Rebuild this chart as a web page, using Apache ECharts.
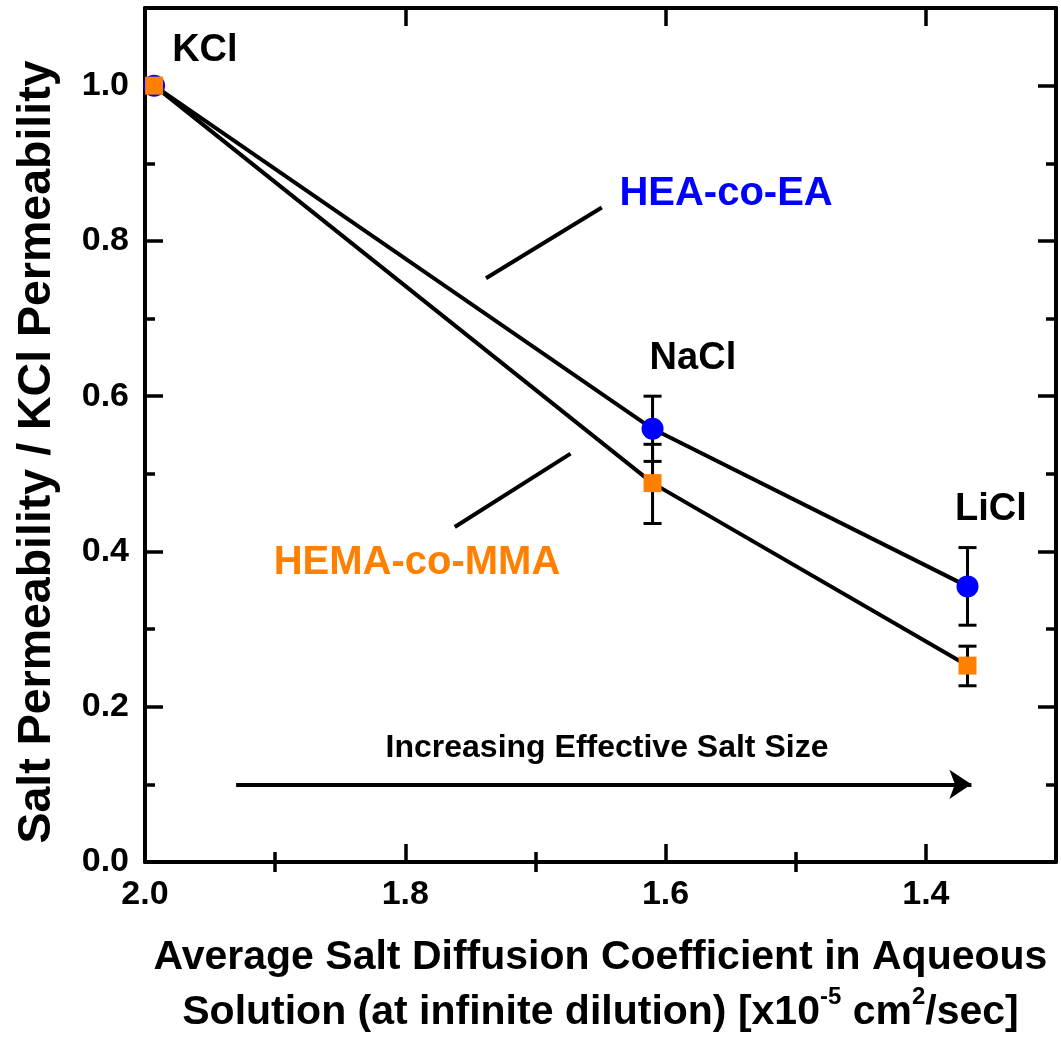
<!DOCTYPE html>
<html>
<head>
<meta charset="utf-8">
<script src="https://cdn.jsdelivr.net/npm/echarts@6/dist/echarts.min.js"></script>
<style>
  html, body { margin: 0; padding: 0; background: #fff; }
  #chart { width: 1061px; height: 1039px; }
</style>
</head>
<body>
<div id="chart"></div>
<script>
// salts, x = diffusion coefficient (x10^-5 cm2/sec)
const salts = ['KCl', 'NaCl', 'LiCl']
const diffusion = [1.993, 1.610, 1.368]

// normalised permeability + error bar ends
const heaValues = [1.0, 0.558, 0.355]
const heaLow = [null, 0.516, 0.305]
const heaHigh = [null, 0.600, 0.405]
const hemaValues = [1.0, 0.488, 0.253]
const hemaLow = [null, 0.436, 0.227]
const hemaHigh = [null, 0.538, 0.278]

// ticks
const xMajor = [2.0, 1.8, 1.6, 1.4]
const xMinor = [1.9, 1.7, 1.5]
const yMajor = [0.0, 0.2, 0.4, 0.6, 0.8, 1.0]
const yMinor = [0.1, 0.3, 0.5, 0.7, 0.9]

// text annotations in data units
const saltLabelX = [1.954, 1.579, 1.350]
const saltLabelY = [1.045, 0.648, 0.454]
const seriesNames = ['HEA-co-EA', 'HEMA-co-MMA']
const seriesLabelX = [1.5535, 1.791]
const seriesLabelY = [0.861, 0.385]
const leaderFrom = [[1.738, 0.752], [1.762, 0.4315]]
const leaderTo = [[1.649, 0.843], [1.673, 0.526]]
const arrowText = 'Increasing Effective Salt Size'
const arrowTextPos = [1.645, 0.147]
const arrowFrom = [1.930, 0.1]
const arrowTo = [1.365, 0.1]

const FONT = "'Liberation Sans', Arial, Helvetica, sans-serif"
const BLUE = '#0000FF'
const ORANGE = '#FF8000'

const chart = echarts.init(document.getElementById('chart'))

// fixed plot box, no auto shrinking for labels
const gridBox = { left: 145, right: 5, top: 8, bottom: 177, containLabel: false, outerBoundsMode: 'none' }

const xBase = (grid, pos) => ({
  type: 'value',
  gridIndex: grid,
  position: pos,
  inverse: true,
  min: 1.3,
  max: 2.0,
  splitLine: { show: false }
})
const yBase = (grid, pos) => ({
  type: 'value',
  gridIndex: grid,
  position: pos,
  min: 0,
  max: 1.1,
  splitLine: { show: false }
})

const axisLine = { show: true, onZero: false, lineStyle: { color: '#000', width: 4 } }
const majorTick = (vals) => ({ show: true, inside: true, length: 18, customValues: vals, lineStyle: { color: '#000', width: 3.5 } })
const minorTick = (vals) => ({ show: true, inside: true, length: 10, customValues: vals, lineStyle: { color: '#000', width: 3.5 } })
const tickLabel = (vals) => ({
  show: true,
  customValues: vals,
  margin: 16,
  color: '#000',
  fontFamily: FONT,
  fontWeight: 'bold',
  fontSize: 34,
  formatter: v => Number(v).toFixed(1)
})

const errorData = (xs, lo, hi) => xs
  .map((x, i) => [x, lo[i], hi[i]])
  .filter(d => d[1] != null)

const renderErrorBar = (params, api) => {
  const x = api.value(0)
  const lo = api.coord([x, api.value(1)])
  const hi = api.coord([x, api.value(2)])
  const half = 9
  const style = { stroke: '#000', lineWidth: 3 }
  return {
    type: 'group',
    children: [
      { type: 'line', shape: { x1: lo[0], y1: lo[1], x2: hi[0], y2: hi[1] }, style },
      { type: 'line', shape: { x1: lo[0] - half, y1: lo[1], x2: lo[0] + half, y2: lo[1] }, style },
      { type: 'line', shape: { x1: hi[0] - half, y1: hi[1], x2: hi[0] + half, y2: hi[1] }, style }
    ]
  }
}

const labelData = [
  ...salts.map((s, i) => ({
    name: s,
    value: [saltLabelX[i], saltLabelY[i]],
    label: { color: '#000', fontSize: 38 }
  })),
  ...seriesNames.map((s, i) => ({
    name: s,
    value: [seriesLabelX[i], seriesLabelY[i]],
    label: { color: i === 0 ? BLUE : ORANGE, fontSize: 40 }
  })),
  {
    name: arrowText,
    value: arrowTextPos,
    label: { color: '#000', fontSize: 32 }
  }
]

const option = {
  backgroundColor: '#fff',
  animation: false,
  grid: [{ ...gridBox }, { ...gridBox }],
  xAxis: [
    {
      ...xBase(0, 'bottom'),
      axisLine,
      axisTick: majorTick(xMajor),
      axisLabel: tickLabel(xMajor),
      name: 'Average Salt Diffusion Coefficient in Aqueous\nSolution (at infinite dilution) [x10{sup|-5} cm{sup|2}/sec]',
      nameLocation: 'middle',
      nameGap: 68,
      nameTextStyle: {
        color: '#000',
        fontFamily: FONT,
        fontWeight: 'bold',
        fontSize: 41,
        lineHeight: 55,
        rich: {
          sup: { fontFamily: FONT, fontWeight: 'bold', fontSize: 24, color: '#000', verticalAlign: 'top', lineHeight: 34 }
        }
      }
    },
    { ...xBase(0, 'top'), axisLine, axisTick: majorTick(xMajor), axisLabel: { show: false } },
    { ...xBase(1, 'bottom'), axisLine: { show: false }, axisTick: minorTick(xMinor), axisLabel: { show: false } },
    { ...xBase(1, 'top'), axisLine: { show: false }, axisTick: minorTick(xMinor), axisLabel: { show: false } }
  ],
  yAxis: [
    {
      ...yBase(0, 'left'),
      axisLine,
      axisTick: majorTick(yMajor),
      axisLabel: tickLabel(yMajor),
      name: 'Salt Permeability / KCl Permeability',
      nameLocation: 'middle',
      nameGap: 84,
      nameTextStyle: {
        color: '#000',
        fontFamily: FONT,
        fontWeight: 'bold',
        fontSize: 46.5,
        padding: [0, 34, 0, 0]
      }
    },
    { ...yBase(0, 'right'), axisLine, axisTick: majorTick(yMajor), axisLabel: { show: false } },
    { ...yBase(1, 'left'), axisLine: { show: false }, axisTick: minorTick(yMinor), axisLabel: { show: false } },
    { ...yBase(1, 'right'), axisLine: { show: false }, axisTick: minorTick(yMinor), axisLabel: { show: false } }
  ],
  series: [
    {
      name: 'HEA err',
      type: 'custom',
      xAxisIndex: 0,
      yAxisIndex: 0,
      z: 2,
      silent: true,
      renderItem: renderErrorBar,
      encode: { x: 0, y: [1, 2] },
      data: errorData(diffusion, heaLow, heaHigh)
    },
    {
      name: 'HEMA err',
      type: 'custom',
      xAxisIndex: 0,
      yAxisIndex: 0,
      z: 2,
      silent: true,
      renderItem: renderErrorBar,
      encode: { x: 0, y: [1, 2] },
      data: errorData(diffusion, hemaLow, hemaHigh)
    },
    {
      name: 'HEA-co-EA',
      type: 'line',
      xAxisIndex: 0,
      yAxisIndex: 0,
      z: 3,
      symbol: 'circle',
      symbolSize: 22,
      showAllSymbol: true,
      itemStyle: { color: BLUE, borderWidth: 0 },
      lineStyle: { color: '#000', width: 4 },
      data: diffusion.map((x, i) => [x, heaValues[i]])
    },
    {
      name: 'HEMA-co-MMA',
      type: 'line',
      xAxisIndex: 0,
      yAxisIndex: 0,
      z: 4,
      symbol: 'rect',
      symbolSize: 18,
      showAllSymbol: true,
      itemStyle: { color: ORANGE, borderWidth: 0 },
      lineStyle: { color: '#000', width: 4 },
      data: diffusion.map((x, i) => [x, hemaValues[i]])
    },
    {
      name: 'labels',
      type: 'scatter',
      xAxisIndex: 0,
      yAxisIndex: 0,
      z: 5,
      silent: true,
      symbolSize: 0,
      itemStyle: { opacity: 1 },
      label: {
        show: true,
        position: 'inside',
        formatter: '{b}',
        fontFamily: FONT,
        fontWeight: 'bold',
        opacity: 1
      },
      data: labelData,
      markLine: {
        silent: true,
        animation: false,
        symbol: 'none',
        label: { show: false },
        lineStyle: { color: '#000', width: 4, type: 'solid', opacity: 1 },
        emphasis: { disabled: true },
        data: [
          ...leaderFrom.map((p, i) => [{ coord: p }, { coord: leaderTo[i] }]),
          [
            { coord: arrowFrom, symbol: 'none' },
            { coord: arrowTo, symbol: 'arrow', symbolSize: 22 }
          ]
        ]
      }
    }
  ]
}

chart.setOption(option)
window.addEventListener('resize', () => chart.resize())
</script>
</body>
</html>
